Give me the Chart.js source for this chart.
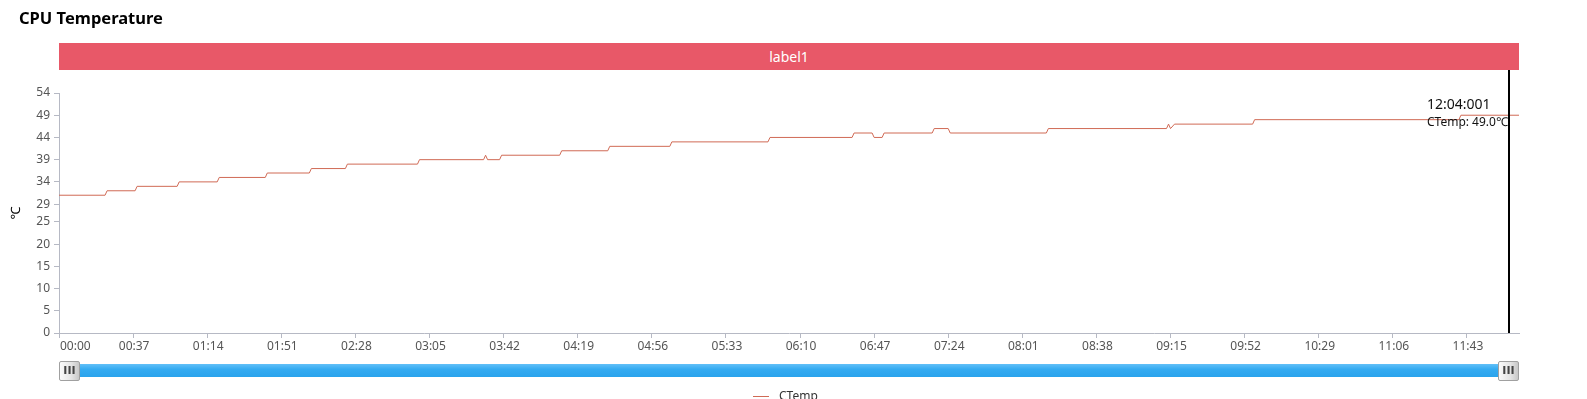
<!DOCTYPE html>
<html>
<head>
<meta charset="utf-8">
<title>CPU Temperature</title>
<script src="https://cdn.jsdelivr.net/npm/chart.js@4.4.1/dist/chart.umd.min.js"></script>
<style>
  html, body { margin: 0; padding: 0; width: 1587px; height: 399px; overflow: hidden; background: #fff; font-family: "Noto Sans", sans-serif; }
  #wrap { position: relative; width: 1587px; height: 399px; }
  #cpuChart { position: absolute; left: 0; top: 0; }
  .title { position: absolute; left: 19px; top: 6px; font-size: 16.5px; font-weight: bold; color: #000; }
  .banner { position: absolute; left: 59px; top: 43px; width: 1460px; height: 27px; background: #e85868; color: #fff; font-size: 14px; line-height: 27px; text-align: center; }
  .slider { position: absolute; left: 59px; top: 364px; width: 1460px; height: 13px; background: linear-gradient(#62c0f8, #35abf1 40%, #2aa3ec); }
  .handle { position: absolute; top: 361px; width: 19px; height: 18px; border: 1px solid #a0a0a0; border-radius: 2px; background: linear-gradient(90deg, #fafafa, #e4e4e4 60%, #c8c8c8); font-size: 11px; line-height: 18px; text-align: center; color: #444; letter-spacing: 0; font-weight: bold; font-family: "DejaVu Sans", sans-serif; }
  .legend { position: absolute; left: 753px; top: 387px; font-size: 12px; color: #333; white-space: nowrap; }
  .legend span { display: inline-block; width: 16px; height: 1px; background: #d06a55; vertical-align: middle; margin-right: 10px; }
</style>
</head>
<body>
<div id="wrap">
  <canvas id="cpuChart" width="1587" height="399"></canvas>
  <div class="title">CPU Temperature</div>
  <div class="banner">label1</div>
  <div class="slider"></div>
  <div class="handle" style="left:59px">III</div>
  <div class="handle" style="left:1498px">III</div>
  <div class="legend"><span></span>CTemp</div>
</div>
<script>
// sample times in minutes from start, and CPU temperature (℃) at those times
const times = [0, 23, 24, 38, 39, 59, 60, 79, 80, 103, 104, 125, 126, 143, 144, 179, 180,
  212, 213, 214, 220, 221, 250, 251, 274, 275, 305, 306, 354, 355, 396, 397, 406, 407,
  411, 412, 436, 437, 444, 445, 493, 494, 553, 554, 555, 557, 596, 597, 699, 700, 729];
const temps = [31, 31, 32, 32, 33, 33, 34, 34, 35, 35, 36, 36, 37, 37, 38, 38, 39,
  39, 40, 39, 39, 40, 40, 41, 41, 42, 42, 43, 43, 44, 44, 45, 45, 44,
  44, 45, 45, 46, 46, 45, 45, 46, 46, 47, 46, 47, 47, 48, 48, 49, 49];

const xTickValues = [0, 37, 74, 111, 148, 185, 222, 259, 296, 333, 370, 407, 444, 481, 518, 555, 592, 629, 666, 703];
const xTickLabels = ['00:00', '00:37', '01:14', '01:51', '02:28', '03:05', '03:42', '04:19', '04:56', '05:33',
  '06:10', '06:47', '07:24', '08:01', '08:38', '09:15', '09:52', '10:29', '11:06', '11:43'];
const yTickValues = [0, 5, 10, 15, 20, 25, 29, 34, 39, 44, 49, 54];

const hoverTime = 724;
const hoverLabel = '12:04:001';

const axisColor = '#b6b9c4';
const lineColor = '#d06a55';

// x labels: first one sits left-aligned at the axis start, the rest are centred
const xLabelPlugin = {
  id: 'xLabels',
  afterDraw(chart) {
    const { ctx } = chart;
    const xs = chart.scales.x;
    ctx.save();
    ctx.font = '12px "Noto Sans"';
    ctx.fillStyle = '#555';
    ctx.textBaseline = 'middle';
    xTickValues.forEach((v, i) => {
      const px = xs.getPixelForValue(v);
      ctx.textAlign = i === 0 ? 'left' : 'center';
      ctx.fillText(xTickLabels[i], px + 1, xs.top + 14);
    });
    ctx.restore();
  }
};

// hover crosshair with tooltip text
const crosshairPlugin = {
  id: 'crosshair',
  afterDatasetsDraw(chart) {
    const { ctx, chartArea } = chart;
    const px = Math.round(chart.scales.x.getPixelForValue(hoverTime));
    let val = temps[0];
    times.forEach((t, i) => { if (t <= hoverTime) val = temps[i]; });
    ctx.save();
    ctx.strokeStyle = '#000';
    ctx.lineWidth = 2;
    ctx.beginPath();
    ctx.moveTo(px, 70);
    ctx.lineTo(px, chartArea.bottom);
    ctx.stroke();
    ctx.fillStyle = '#111';
    ctx.textAlign = 'left';
    ctx.textBaseline = 'alphabetic';
    ctx.font = '14px "Noto Sans"';
    ctx.fillText(hoverLabel, px - 82, 109);
    ctx.font = '12px "Noto Sans"';
    ctx.fillText('CTemp: ' + val.toFixed(1) + '℃', px - 82, 126);
    ctx.restore();
  }
};

new Chart(document.getElementById('cpuChart'), {
  type: 'line',
  data: {
    datasets: [{
      label: 'CTemp',
      data: times.map((t, i) => ({ x: t, y: temps[i] })),
      borderColor: lineColor,
      borderWidth: 1,
      pointRadius: 0,
      tension: 0,
      fill: false
    }]
  },
  options: {
    responsive: false,
    animation: false,
    layout: { padding: { top: 93, right: 68, bottom: 0, left: 0 } },
    plugins: { legend: { display: false }, tooltip: { enabled: false } },
    scales: {
      x: {
        type: 'linear',
        min: 0,
        max: 729,
        afterBuildTicks: scale => { scale.ticks = xTickValues.map(v => ({ value: v })); },
        afterFit: scale => { scale.height = 66; },
        border: { color: axisColor, width: 1 },
        grid: { drawOnChartArea: false, color: axisColor, tickLength: 5 },
        ticks: { display: false }
      },
      y: {
        min: 0,
        max: 54,
        afterBuildTicks: scale => { scale.ticks = yTickValues.map(v => ({ value: v })); },
        afterFit: scale => { scale.width = 59; },
        border: { color: axisColor, width: 1 },
        grid: { drawOnChartArea: false, color: axisColor, tickLength: 5 },
        ticks: { color: '#555', font: { family: 'Noto Sans', size: 12 }, padding: 4 },
        title: { display: true, text: '℃', color: '#000', font: { family: 'Noto Sans', size: 13 }, padding: { top: 8, bottom: 4 } }
      }
    }
  },
  plugins: [xLabelPlugin, crosshairPlugin]
});
</script>
</body>
</html>
